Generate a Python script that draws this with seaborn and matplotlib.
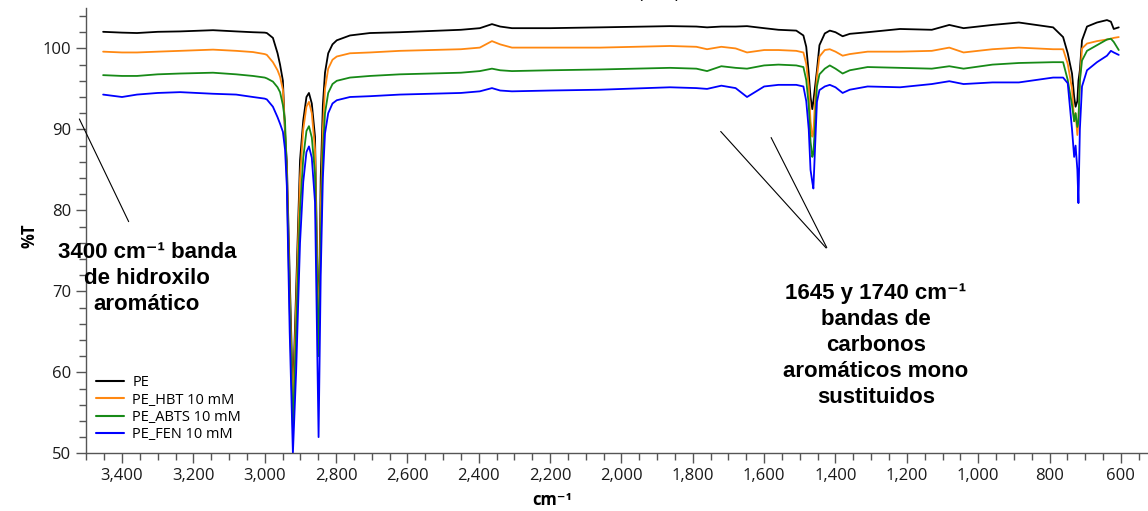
import pandas as pd
import numpy as np
import matplotlib
matplotlib.use("Agg")
import matplotlib.pyplot as plt
import matplotlib.ticker as mticker
import seaborn as sns

# ==============================================================================
# 1. SPECTRA (wavenumber in cm-1, transmittance in %T)
# ==============================================================================
wavenumber = [
    3453, 3400, 3358, 3300, 3237, 3145, 3080, 3033, 3000, 2994, 2977, 2964,
    2957, 2949, 2943, 2938, 2930, 2921, 2912, 2901, 2892, 2883, 2876, 2868,
    2859, 2849, 2843, 2837, 2831, 2822, 2810, 2798, 2761, 2705, 2621, 2450,
    2397, 2363, 2340, 2307, 2200, 2060, 1864, 1790, 1760, 1720, 1680, 1648,
    1600, 1560, 1510, 1490, 1482, 1475, 1470, 1465, 1462, 1458, 1452, 1445,
    1430, 1416, 1400, 1380, 1360, 1310, 1219, 1130, 1081, 1041, 960, 886,
    790, 762, 749, 737, 731, 727, 722, 719, 715, 709, 695, 667,
    639, 628, 620, 606,
]

pe = [
    102.05, 101.95, 101.9, 102.05, 102.1, 102.25, 102.1, 102.0, 101.95, 101.9, 101.3, 99.4,
    98.0, 96.0, 89.5, 86.0, 72.0, 57.0, 70.0, 86.2, 91.1, 94.0, 94.5, 93.2,
    89.1, 64.0, 84.0, 93.0, 97.0, 99.4, 100.5, 101.0, 101.6, 101.9, 102.0, 102.3,
    102.5, 103.0, 102.7, 102.5, 102.5, 102.6, 102.75, 102.7, 102.6, 102.7, 102.7, 102.75,
    102.5, 102.3, 102.2, 101.6, 100.2, 96.9, 94.0, 92.5, 93.5, 95.0, 97.3, 100.4,
    101.85, 102.2, 102.0, 101.5, 101.8, 102.0, 102.4, 102.3, 102.9, 102.5, 102.9, 103.2,
    102.6, 101.4, 99.4, 96.9, 94.0, 92.8, 93.5, 96.0, 97.3, 101.0, 102.7, 103.2,
    103.5, 103.3, 102.4, 102.6,
]

pe_hbt = [
    99.6, 99.5, 99.5, 99.6, 99.7, 99.85, 99.7, 99.55, 99.3, 99.2, 98.3, 97.3,
    96.5, 94.9, 90.0, 85.0, 70.0, 55.0, 68.0, 84.0, 90.0, 92.8, 93.4, 92.0,
    87.5, 63.0, 80.0, 90.0, 95.0, 97.5, 98.6, 99.0, 99.4, 99.5, 99.7, 99.9,
    100.1, 100.9, 100.5, 100.1, 100.1, 100.1, 100.3, 100.2, 99.9, 100.2, 100.0, 99.5,
    99.8, 99.8, 99.7, 99.5, 98.1, 95.3, 91.0, 89.1, 89.5, 93.0, 96.5, 99.0,
    99.8, 99.9, 99.6, 99.1, 99.3, 99.6, 99.6, 99.7, 100.1, 99.5, 99.9, 100.1,
    99.9, 99.9, 98.1, 95.0, 91.0, 92.0, 89.3, 91.0, 96.0, 100.0, 100.6, 100.9,
    101.1, 101.2, 101.3, 101.4,
]

pe_abts = [
    96.7, 96.6, 96.6, 96.8, 96.9, 97.0, 96.8, 96.6, 96.4, 96.3, 95.9, 95.2,
    94.6, 93.0, 91.0, 84.0, 68.0, 53.0, 65.0, 80.0, 86.5, 89.8, 90.4, 89.0,
    84.5, 62.0, 76.0, 87.0, 92.0, 94.5, 95.6, 96.0, 96.4, 96.6, 96.8, 97.0,
    97.2, 97.5, 97.3, 97.2, 97.3, 97.4, 97.6, 97.5, 97.2, 97.8, 97.6, 97.5,
    97.9, 98.0, 97.9, 97.7, 96.1, 93.0, 88.5, 86.6, 87.0, 90.0, 95.3, 96.8,
    97.5, 97.9, 97.5, 96.9, 97.3, 97.7, 97.6, 97.5, 97.8, 97.5, 98.0, 98.2,
    98.3, 98.3, 96.1, 93.0, 91.0, 92.0, 90.3, 91.0, 96.0, 98.5, 99.7, 100.4,
    101.1, 101.2, 100.8, 99.8,
]

pe_fen = [
    94.3, 94.0, 94.3, 94.5, 94.6, 94.4, 94.3, 94.0, 93.8, 93.7, 92.8, 91.5,
    90.7, 89.7, 87.5, 83.0, 65.0, 50.0, 60.0, 76.0, 83.5, 87.2, 87.9, 86.5,
    81.0, 52.0, 72.0, 84.0, 89.5, 92.0, 93.2, 93.6, 94.0, 94.1, 94.3, 94.5,
    94.7, 95.1, 94.8, 94.7, 94.8, 94.9, 95.2, 95.1, 95.0, 95.4, 95.1, 94.0,
    95.3, 95.5, 95.5, 95.3, 93.5, 90.0, 85.0, 83.5, 82.7, 87.0, 93.4, 94.85,
    95.3, 95.5, 95.2, 94.5, 94.9, 95.3, 95.2, 95.6, 95.95, 95.6, 95.8, 95.8,
    96.4, 96.4, 95.7, 90.0, 86.6, 88.0, 85.0, 80.9, 90.0, 95.3, 97.3, 98.3,
    99.1, 99.7, 99.5, 99.2,
]

series_names = ["PE", "PE_HBT 10 mM", "PE_ABTS 10 mM", "PE_FEN 10 mM"]
series_colors = ["#000000", "#ff8811", "#178a17", "#0000ff"]

# ==============================================================================
# 2. LONG TABLE FOR SEABORN
# ==============================================================================
frames = []
for name, values in zip(series_names, [pe, pe_hbt, pe_abts, pe_fen]):
    frames.append(pd.DataFrame({"wn": wavenumber, "T": values, "muestra": name}))
df = pd.concat(frames, ignore_index=True)

# ==============================================================================
# 3. PLOT
# ==============================================================================
sns.set_style("ticks")
plt.rcParams["font.family"] = ["Open Sans", "DejaVu Sans"]
plt.rcParams["text.color"] = "black"

fig = plt.figure(figsize=(11.48, 5.11), dpi=100)
ax = fig.add_axes([0.0749, 0.1129, 0.9251, 0.8708])

sns.lineplot(
    data=df, x="wn", y="T", hue="muestra", hue_order=series_names,
    palette=dict(zip(series_names, series_colors)),
    estimator=None, sort=False, linewidth=1.3, ax=ax,
)

ax.set_xlim(3501, 524)
ax.set_ylim(50, 104.95)

ax.xaxis.set_major_locator(mticker.MultipleLocator(200))
ax.xaxis.set_minor_locator(mticker.MultipleLocator(50))
ax.xaxis.set_major_formatter(mticker.FuncFormatter(lambda v, p: f"{v:,.0f}"))
ax.yaxis.set_major_locator(mticker.MultipleLocator(10))
ax.yaxis.set_minor_locator(mticker.MultipleLocator(2))

gray = "#555555"
for side in ["top", "right"]:
    ax.spines[side].set_visible(False)
for side in ["left", "bottom"]:
    ax.spines[side].set_color(gray)
    ax.spines[side].set_linewidth(1.0)
ax.tick_params(axis="both", which="major", length=7, color=gray, labelsize=12,
               labelcolor="#1a1a1a", width=1.0)
ax.tick_params(axis="both", which="minor", length=5, color=gray, width=1.0)

ax.set_xlabel("cm⁻¹", fontsize=12, fontweight="bold", color="black",
              family=["Open Sans", "DejaVu Sans"])
ax.xaxis.set_label_coords(0.439, -0.085)
ax.set_ylabel("%T", fontsize=12, fontweight="bold", color="black")
ax.yaxis.set_label_coords(-0.045, 0.49)

leg = ax.legend(loc="lower left", bbox_to_anchor=(-0.003, -0.004), frameon=False,
                fontsize=10.5, handlelength=1.9, handletextpad=0.6,
                labelspacing=0.15, borderaxespad=0.5)
for line in leg.get_lines():
    line.set_linewidth(1.5)

# annotations
note_font = ["Liberation Sans", "DejaVu Sans"]
ax.text(3330, 71.6, "3400 cm⁻¹ banda\nde hidroxilo\naromático", ha="center",
        va="center", fontsize=16, fontweight="bold", family=note_font,
        linespacing=1.3, color="black")
ax.text(1287, 63.3, "1645 y 1740 cm⁻¹\nbandas de\ncarbonos\naromáticos mono\nsustituidos",
        ha="center", va="center", fontsize=16, fontweight="bold", family=note_font,
        linespacing=1.32, color="black")

ax.annotate("", xy=(3378, 78.3), xytext=(3523, 91.6), annotation_clip=False,
            arrowprops=dict(arrowstyle="-", color="black", lw=0.8))
ax.annotate("", xy=(1421, 75.1), xytext=(1727, 90.0), annotation_clip=False,
            arrowprops=dict(arrowstyle="-", color="black", lw=0.8))
ax.annotate("", xy=(1421, 75.1), xytext=(1584, 89.3), annotation_clip=False,
            arrowprops=dict(arrowstyle="-", color="black", lw=0.8))

# title cut off at the top edge in the reference
fig.text(659 / 1148, 1.003, "(ATR)", ha="center", va="baseline", fontsize=13)

plt.savefig("out.png", dpi=100)
